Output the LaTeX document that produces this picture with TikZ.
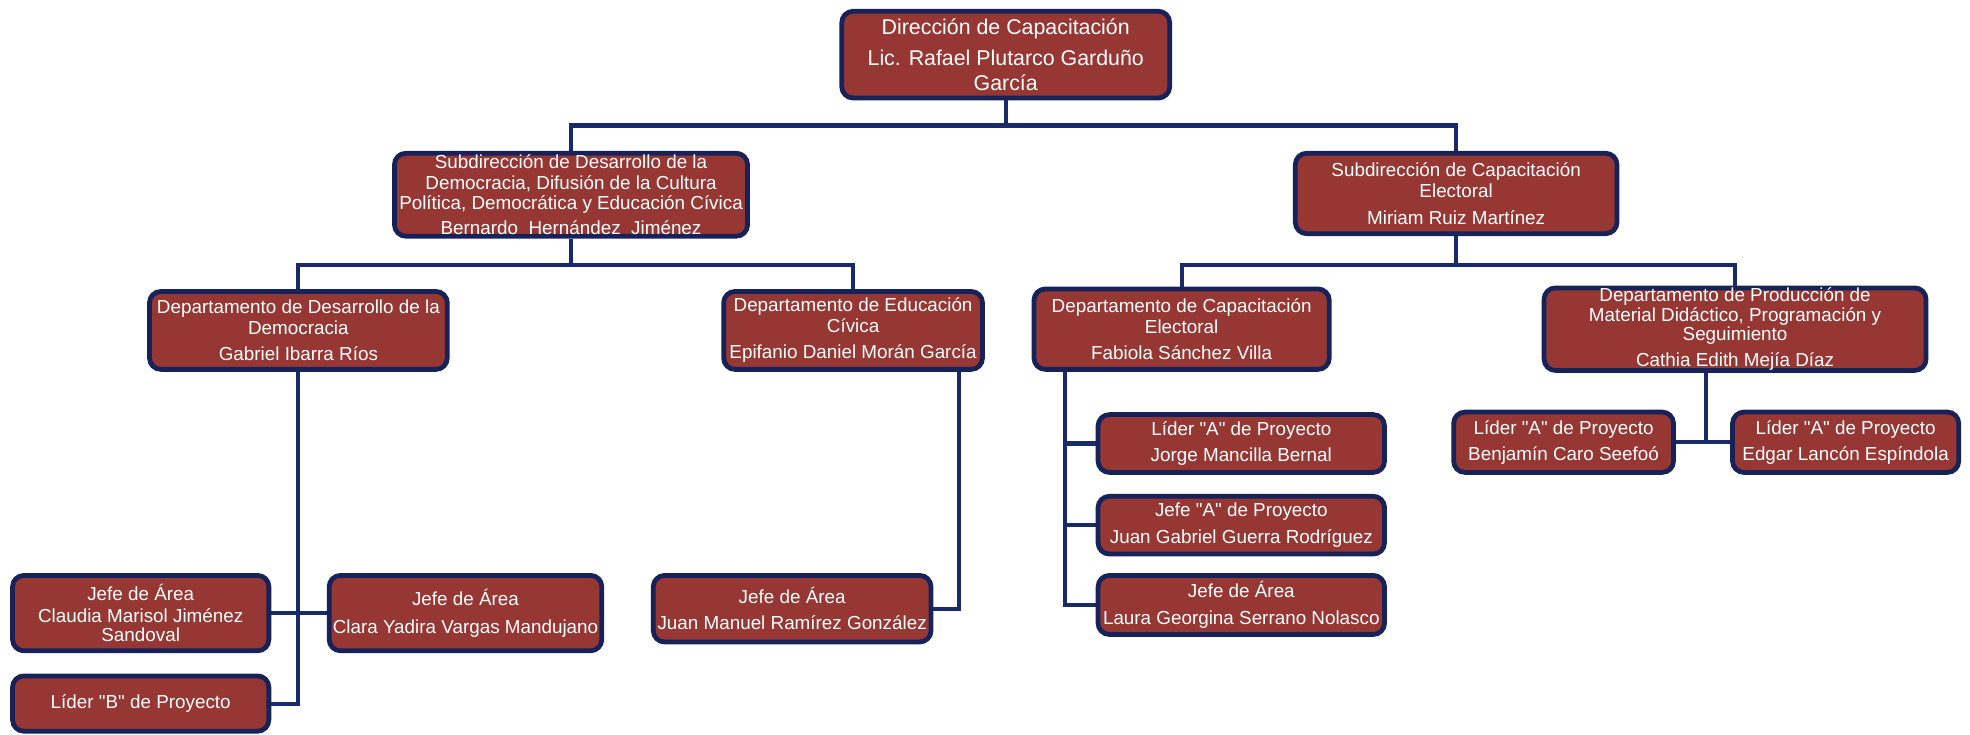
\documentclass[tikz,border=0pt]{standalone}
\usepackage{fontspec}
\setmainfont{Liberation Sans}
\newfontfamily\lsans{Liberation Sans}
\usetikzlibrary{backgrounds}
\definecolor{boxred}{RGB}{150,55,52}
\definecolor{boxborder}{RGB}{22,34,88}
\definecolor{linenavy}{RGB}{24,42,105}
\begin{document}
\begin{tikzpicture}[x=1pt,y=-1pt,
  orgbox/.style={draw=boxborder, line width=3.8pt, fill=boxred, rounded corners=9pt,
    text=white, align=center, inner sep=0pt,
    font=\lsans\fontsize{15}{16.5}\selectfont},
  conn/.style={draw=linenavy, line width=3.2pt}]
\useasboundingbox (0,0) rectangle (1568,585);

% level 0
\node[orgbox, minimum width=261pt, minimum height=69pt,
  font=\lsans\fontsize{17}{19.5}\selectfont] (dir) at (800.5,43.5)
  {Dirección de Capacitación\\[5pt]Lic. Rafael Plutarco Garduño\\García};

% level 1
\node[orgbox, minimum width=281pt, minimum height=66pt] (sub1) at (454.5,155)
  {Subdirección de Desarrollo de la\\Democracia, Difusión de la Cultura\\Política, Democrática y Educación Cívica\\[3.5pt]Bernardo\ \ Hernández\ \ Jiménez};
\node[orgbox, minimum width=256pt, minimum height=64pt] (sub2) at (1159,154)
  {Subdirección de Capacitación\\Electoral\\[5pt]Miriam Ruiz Martínez};

% level 2
\node[orgbox, minimum width=237pt, minimum height=62pt] (d1) at (237.5,263)
  {Departamento de Desarrollo de la\\Democracia\\[4.5pt]Gabriel Ibarra Ríos};
\node[orgbox, minimum width=206pt, minimum height=62pt] (d2) at (679,263)
  {Departamento de Educación\\Cívica\\[4.5pt]Epifanio Daniel Morán García};
\node[orgbox, minimum width=235pt, minimum height=64pt] (d3) at (940.5,262)
  {Departamento de Capacitación\\Electoral\\[4.5pt]Fabiola Sánchez Villa};
\node[orgbox, minimum width=304pt, minimum height=64pt,
  font=\lsans\fontsize{15}{15.5}\selectfont] (d4) at (1381,262)
  {Departamento de Producción de\\Material Didáctico, Programación y\\Seguimiento\\[5pt]Cathia Edith Mejía Díaz};

% level 3 - left
\node[orgbox, minimum width=204pt, minimum height=60pt,
  font=\lsans\fontsize{15}{15.5}\selectfont] (claudia) at (112,488)
  {Jefe de Área\\[2pt]Claudia Marisol Jiménez\\Sandoval};
\node[orgbox, minimum width=217pt, minimum height=60pt] (clara) at (370.5,488)
  {Jefe de Área\\[6pt]Clara Yadira Vargas Mandujano};
\node[orgbox, minimum width=204pt, minimum height=44pt] (liderB) at (112,560)
  {Líder "B" de Proyecto};
\node[orgbox, minimum width=221pt, minimum height=53pt] (juanm) at (630.5,484.5)
  {Jefe de Área\\[4.5pt]Juan Manuel Ramírez González};

% level 3 - right
\node[orgbox, minimum width=228pt, minimum height=46pt] (jorge) at (988,353)
  {Líder "A" de Proyecto\\[4.5pt]Jorge Mancilla Bernal};
\node[orgbox, minimum width=228pt, minimum height=46pt] (juang) at (988,418)
  {Jefe "A" de Proyecto\\[4.5pt]Juan Gabriel Guerra Rodríguez};
\node[orgbox, minimum width=228pt, minimum height=47pt] (laura) at (988,481.5)
  {Jefe de Área\\[4.5pt]Laura Georgina Serrano Nolasco};
\node[orgbox, minimum width=175pt, minimum height=48pt] (benj) at (1244.5,352)
  {Líder "A" de Proyecto\\[4.5pt]Benjamín Caro Seefoó};
\node[orgbox, minimum width=180pt, minimum height=48pt] (edgar) at (1469,352)
  {Líder "A" de Proyecto\\[4.5pt]Edgar Lancón Espíndola};

\begin{scope}[on background layer]
  % top
  \path (dir.south) ++(0,20) coordinate (j1);
  \draw[conn] (dir.south) -- (j1);
  \draw[conn] (sub1.north) |- (j1) -| (sub2.north);
  % sub1
  \path (sub1.south) ++(0,21) coordinate (j2);
  \draw[conn] (sub1.south) -- (j2);
  \draw[conn] (d1.north) |- (j2) -| (d2.north);
  % sub2
  \path (sub2.south) ++(0,23) coordinate (j3);
  \draw[conn] (sub2.south) -- (j3);
  \draw[conn] (d3.north) |- (j3) -| (d4.north);
  % d1
  \draw[conn] (d1.south) |- (liderB.east);
  \draw[conn] (claudia.east) -- (clara.west);
  % d2
  \coordinate (d2x) at (763,0);
  \draw[conn] (d2.south -| d2x) |- (juanm.east);
  % d3
  \coordinate (d3x) at (848,0);
  \draw[conn] (d3.south -| d3x) |- (laura.west);
  \draw[conn] (jorge.west -| d3x) -- (jorge.west);
  \draw[conn] (juang.west -| d3x) -- (juang.west);
  % d4
  \coordinate (d4x) at (1358,0);
  \draw[conn] (d4.south -| d4x) -- (benj.east -| d4x);
  \draw[conn] (benj.east) -- (edgar.west);
\end{scope}
\end{tikzpicture}
\end{document}
